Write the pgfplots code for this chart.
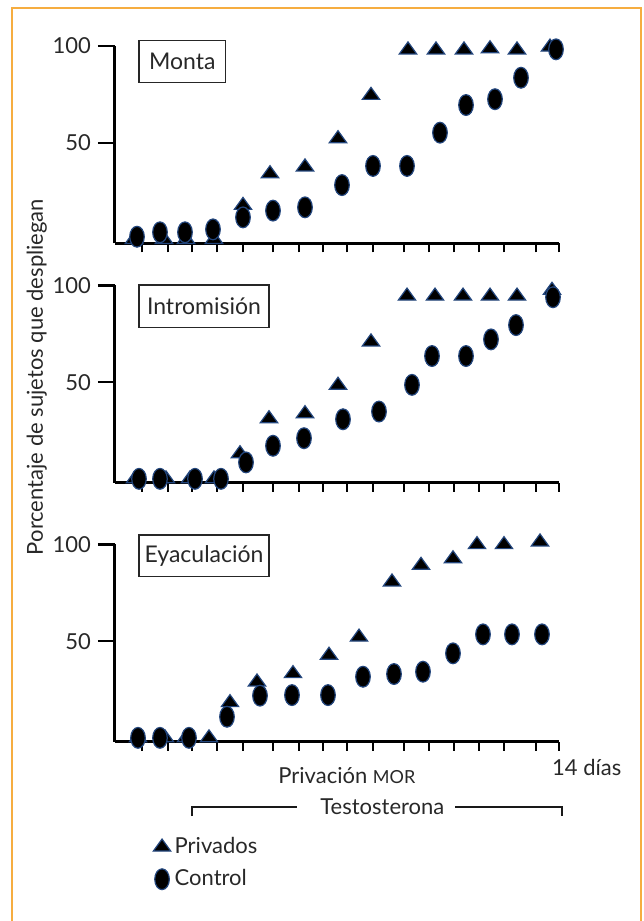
\documentclass[border=0pt]{standalone}
\usepackage{pgfplots}
\pgfplotsset{compat=1.18}
\usepackage{pgfplotstable}
\usepackage{fontspec}
\setmainfont{Lato}
\definecolor{frameorange}{RGB}{246,173,64}
\definecolor{markedge}{RGB}{35,70,125}
\definecolor{txt}{RGB}{40,40,40}

% x = position along the day axis (drawing units), y = percentage
\pgfplotstableread{
x y
134 0
164 0
186 0
214 0
243 17.6
270 34.0
305 37.5
338 52.1
371 74.5
408 98
436 98
464 98
490 98.6
517 98
550 99.5
}\montaP
\pgfplotstableread{
x y
137 1.4
160 3.7
185 3.7
213 5.2
243 11.4
273 14.9
305 16.6
342 28.1
373 38.0
407 38.0
440 55.2
466 69.5
495 72.5
521 83.6
556 98.3
}\montaC
\pgfplotstableread{
x y
135 0
166 0
190 0
214 0
240 13.0
269 31.1
305 33.7
338 48.4
371 70.8
407 94.5
435 94.5
463 94.5
490 94.5
517 94.5
552 97.5
}\introP
\pgfplotstableread{
x y
139 0
160 0
195 0
221 0
246 8.5
273 17.1
304 21.0
343 30.8
379 34.8
412 48.6
432 63.5
466 63.5
491 72.1
516 79.5
553 93.9
}\introC
\pgfplotstableread{
x y
138 0
165 0
186 0
209 0
230 18.2
257 28.9
293 33.2
329 42.7
359 52.1
392 80.6
421 89.2
453 92.6
477 99.9
504 99.9
540 101.3
}\eyaP
\pgfplotstableread{
x y
138 0
160 0
189 0
227 10.9
260 21.8
292 22.1
328 22.1
363 31.6
394 33.0
423 34.2
453 43.7
483 53.5
512 53.5
542 53.5
}\eyaC

\pgfplotsset{
  panel/.style={
    scale only axis, width=222.15pt, height=98.63pt,
    xmin=115, xmax=559.3, ymin=-2, ymax=100,
    axis x line=bottom, axis y line=left,
    axis line style={-, line width=1.5pt, black},
    x axis line style={-}, y axis line style={-},
    xtick={142.3,167.7,192.3,217.3,242.7,273.3,299,323.3,346.7,372.7,404,429,454,479.3,504,535.7,559.3},
    xticklabel=\empty,
    ytick=\empty,
    extra y ticks={50,100},
    extra y tick style={major tick length=8.5pt, tick style={line width=1.2pt, black}},
    tick align=outside,
    major tick length=4.5pt,
    xtick style={line width=1pt, black},
    clip=false,
    /pgf/number format/assume math mode=true,
    tick label style={font=\fontsize{11}{13}\selectfont, text=txt},
  },
  priv/.style={only marks, mark=triangle*, mark size=5pt,
    mark options={yscale=0.8, fill=black, draw=markedge, line width=0.6pt}},
  ctrl/.style={only marks, mark=*, mark size=5.2pt,
    mark options={xscale=0.7, fill=black, draw=markedge, line width=0.6pt}},
}

\begin{document}
\begin{tikzpicture}
\begin{axis}[panel, at={(57.5pt,-121.65pt)}, anchor=south west]
\addplot[priv] table {\montaP};
\addplot[ctrl] table {\montaC};
\end{axis}
\begin{axis}[panel, at={(57.5pt,-241.35pt)}, anchor=south west]
\addplot[priv] table {\introP};
\addplot[ctrl] table {\introC};
\end{axis}
\begin{axis}[panel, at={(57.5pt,-370.85pt)}, anchor=south west,
  legend entries={Privados, Control},
  legend cell align=left,
  legend image code/.code={\draw[#1] plot coordinates {(0pt,0pt)};},
  legend style={at={(axis description cs:0.0855,-0.463)}, anchor=north west,
    draw=none, fill=none, inner sep=0pt, row sep=2.5pt, column sep=0pt,
    font=\fontsize{11}{13}\selectfont, text=txt,
    nodes={inner sep=2pt}}]
\addplot[priv] table {\eyaP};
\addplot[ctrl] table {\eyaC};
\end{axis}

\begin{scope}[x=0.5pt, y=-0.5pt]
  \draw[frameorange, line width=1pt] (12,8) rectangle (640.5,930);
  \node[draw=black!85, line width=0.6pt, minimum width=43.35pt, minimum height=21pt,
        inner sep=0pt, font=\fontsize{11.5}{13}\selectfont, text=txt] at (182.35,61.7) {Monta};
  \node[draw=black!85, line width=0.6pt, minimum width=65pt, minimum height=21.15pt,
        inner sep=0pt, font=\fontsize{11.5}{13}\selectfont, text=txt] at (204,306.15) {Intromisión};
  \node[draw=black!85, line width=0.6pt, minimum width=65pt, minimum height=20.85pt,
        inner sep=0pt, font=\fontsize{11.5}{13}\selectfont, text=txt] at (204,555.85) {Eyaculación};
  \node[rotate=90, inner sep=0pt, font=\fontsize{11}{13}\selectfont, text=txt] at (36.7,377)
        {Porcentaje de sujetos que despliegan};
  \node[anchor=base west, inner sep=0pt, font=\fontsize{11}{13}\selectfont, text=txt] at (278,783.3)
        {Privación {\fontsize{9}{10}\selectfont MOR}};
  \node[anchor=base west, inner sep=0pt, font=\fontsize{11}{13}\selectfont, text=txt] at (551.7,775.7)
        {14 días};
  \node[anchor=base west, inner sep=0pt, font=\fontsize{11}{13}\selectfont, text=txt] at (320,814)
        {Testosterona};
  \draw[black!90, line width=1.2pt] (191.7,816) -- (191.7,806.7) -- (296.7,806.7);
  \draw[black!90, line width=1.2pt] (455,806.7) -- (561.7,806.7) -- (561.7,816);
\end{scope}

\pgfresetboundingbox
\path[use as bounding box] (0,0) rectangle (321.5pt,-460.5pt);
\end{tikzpicture}
\end{document}
